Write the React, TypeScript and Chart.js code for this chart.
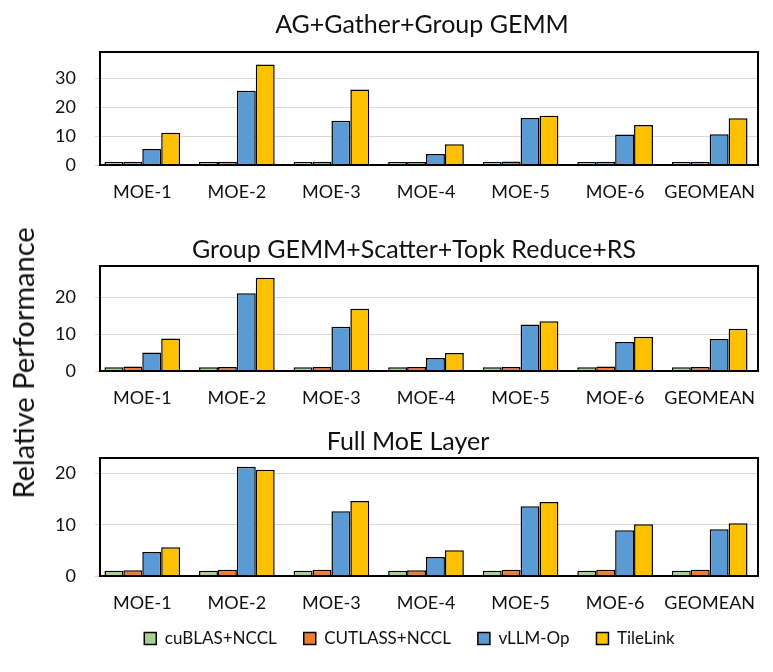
import React, { useEffect, useRef } from "react";
import { Chart, registerables } from "chart.js";

Chart.register(...registerables);

const categories = ["MOE-1", "MOE-2", "MOE-3", "MOE-4", "MOE-5", "MOE-6", "GEOMEAN"];
const seriesNames = ["cuBLAS+NCCL", "CUTLASS+NCCL", "vLLM-Op", "TileLink"];
const seriesColors = ["#A9D18E", "#ED7D31", "#5B9BD5", "#FFC000"];

// Panel 1: AG+Gather+Group GEMM
const agCublas = [1, 1, 1, 1, 1, 1, 1];
const agCutlass = [1.1, 1.1, 1.1, 1.0, 1.2, 1.1, 1.1];
const agVllm = [5.5, 25.6, 15.3, 3.8, 16.2, 10.5, 10.6];
const agTileLink = [11.1, 34.7, 26.1, 7.2, 17.0, 13.8, 16.1];

// Panel 2: Group GEMM+Scatter+Topk Reduce+RS
const rsCublas = [1, 1, 1, 1, 1, 1, 1];
const rsCutlass = [1.2, 1.1, 1.1, 1.1, 1.1, 1.2, 1.1];
const rsVllm = [5.0, 21.1, 12.0, 3.5, 12.6, 7.9, 8.7];
const rsTileLink = [8.8, 25.3, 16.9, 4.9, 13.5, 9.3, 11.5];

// Panel 3: Full MoE Layer
const fullCublas = [1, 1, 1, 1, 1, 1, 1];
const fullCutlass = [1.1, 1.2, 1.2, 1.1, 1.2, 1.2, 1.2];
const fullVllm = [4.7, 21.3, 12.6, 3.7, 13.6, 8.9, 9.1];
const fullTileLink = [5.6, 20.7, 14.6, 5.0, 14.4, 10.1, 10.3];

const FONT = "Lato, 'Open Sans', sans-serif";
const TEXT = "#111111";

const framePlugin = {
  id: "frame",
  afterDatasetsDraw(chart: any) {
    const { ctx, chartArea } = chart;
    ctx.save();
    ctx.strokeStyle = "#000000";
    ctx.lineWidth = 2;
    ctx.strokeRect(chartArea.left + 5, chartArea.top, chartArea.right - chartArea.left - 4, chartArea.bottom - chartArea.top);
    ctx.restore();
  },
};

const legendShiftPlugin = {
  id: "legendShift",
  afterLayout(chart: any) {
    const lg = chart.legend;
    if (lg && lg.options.display) {
      lg.top -= 13;
      lg.bottom -= 13;
      lg.left += 31;
      lg.right += 31;
    }
  },
};

type PanelProps = {
  top: number;
  height: number;
  series: number[][];
  yMax: number;
  padTop: number;
  xHeight: number;
  padBottom: number;
  legend?: boolean;
};

function Panel(p: PanelProps) {
  const ref = useRef<HTMLCanvasElement | null>(null);
  useEffect(() => {
    if (!ref.current) return;
    const chart = new Chart(ref.current, {
      type: "bar",
      data: {
        labels: categories,
        datasets: p.series.map((vals, i) => ({
          label: seriesNames[i],
          data: vals,
          backgroundColor: seriesColors[i],
          borderColor: "#000000",
          borderWidth: 1.5,
          categoryPercentage: 0.8,
          barPercentage: 1.0,
        })),
      },
      options: {
        responsive: false,
        animation: false,
        devicePixelRatio: 1,
        layout: { padding: { left: 0, right: 16, top: p.padTop, bottom: p.padBottom } },
        plugins: {
          tooltip: { enabled: false },
          title: { display: false },
          legend: {
            display: !!p.legend,
            position: "bottom",
            labels: {
              boxWidth: 12,
              boxHeight: 12,
              padding: 27,
              color: TEXT,
              font: { family: FONT, size: 17 },
            },
          },
        },
        scales: {
          x: {
            grid: { display: false, drawTicks: false },
            border: { display: false },
            ticks: { color: TEXT, padding: 16, font: { family: FONT, size: 18 }, maxRotation: 0 },
            afterFit: (s: any) => { s.height = p.xHeight; },
          },
          y: {
            min: 0,
            max: p.yMax,
            grid: { color: "#D9D9D9", lineWidth: 1, drawTicks: false },
            border: { display: false },
            ticks: { stepSize: 10, includeBounds: false, color: TEXT, padding: 19, font: { family: FONT, size: 18 } },
            afterFit: (s: any) => { s.width = 95; },
          },
        },
      },
      plugins: [framePlugin, legendShiftPlugin],
    } as any);
    return () => chart.destroy();
  }, []);
  return (
    <div style={{ position: "absolute", left: 0, top: p.top, width: 773, height: p.height }}>
      <canvas ref={ref} width={773} height={p.height} style={{ display: "block" }} />
    </div>
  );
}

function Title({ text, cx, cy }: { text: string; cx: number; cy: number }) {
  return (
    <div style={{
      position: "absolute", left: cx, top: cy, transform: "translate(-50%, -50%)",
      whiteSpace: "nowrap", fontFamily: FONT, fontSize: 25, lineHeight: "30px", color: TEXT,
    }}>{text}</div>
  );
}

export default function App() {
  return (
    <div style={{ position: "absolute", left: 0, top: 0, width: 773, height: 672, background: "#fff", overflow: "hidden" }}>
      <Panel top={0} height={210} series={[agCublas, agCutlass, agVllm, agTileLink]}
        yMax={39} padTop={52} xHeight={45} padBottom={0} />
      <Panel top={210} height={205} series={[rsCublas, rsCutlass, rsVllm, rsTileLink]}
        yMax={28.5} padTop={56} xHeight={44} padBottom={0} />
      <Panel top={415} height={257} series={[fullCublas, fullCutlass, fullVllm, fullTileLink]}
        yMax={23} padTop={43} xHeight={40} padBottom={2} legend />
      <Title text="AG+Gather+Group GEMM" cx={422} cy={23} />
      <Title text="Group GEMM+Scatter+Topk Reduce+RS" cx={414} cy={248} />
      <Title text="Full MoE Layer" cx={408} cy={440} />
      <div style={{
        position: "absolute", left: 23, top: 363, transform: "translate(-50%, -50%) rotate(-90deg)",
        whiteSpace: "nowrap", fontFamily: FONT, fontSize: 29, lineHeight: "34px", color: TEXT,
      }}>Relative Performance</div>
    </div>
  );
}
